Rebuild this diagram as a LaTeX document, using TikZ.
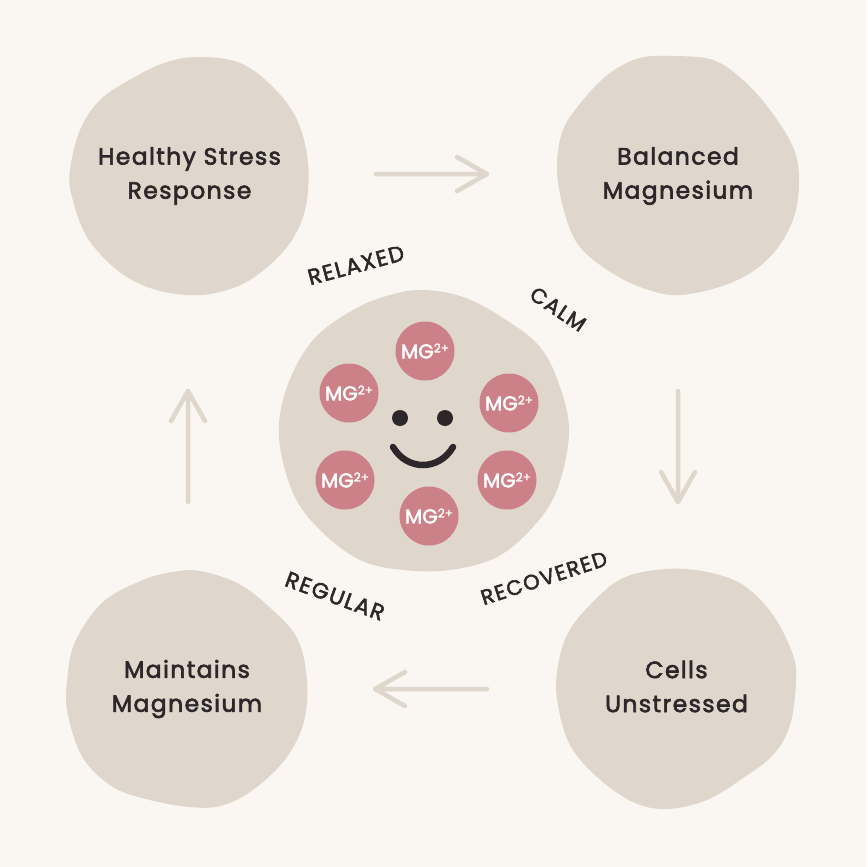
\documentclass[tikz,border=0pt]{standalone}
\usepackage{fontspec}
\setmainfont{Poppins}
\newfontfamily\lab[LetterSpace=6,FakeBold=2.6]{Poppins}
\newfontfamily\tag[LetterSpace=7,FakeBold=2.4]{Poppins}
\newfontfamily\mgf[FakeBold=2.2]{Poppins}
\definecolor{bgc}{HTML}{FAF6F1}
\definecolor{blob}{HTML}{DFD6CC}
\definecolor{ink}{HTML}{2D2729}
\definecolor{rose}{HTML}{CC8088}
\tikzset{
 blobshape/.style={fill=blob,draw=none},
 flow/.style={draw=blob,line width=4.5pt,line cap=round,line join=round},
 lbl/.style={text=ink,font=\lab\fontsize{23.5pt}{34pt}\selectfont,align=center,inner sep=0pt},
 wtag/.style={text=ink,font=\tag\fontsize{21pt}{24pt}\selectfont,inner sep=0pt},
 wtagb/.style={text=ink,font=\tag\fontsize{22pt}{24pt}\selectfont,inner sep=0pt},
 mg/.style={circle,fill=rose,minimum size=59pt,inner sep=0pt,text=white,font=\mgf\fontsize{20pt}{22pt}\selectfont},
 eye/.style={circle,fill=ink,minimum size=16pt,inner sep=0pt}
}
\newcommand{\mgt}{MG\raisebox{6pt}{\fontsize{12pt}{12pt}\selectfont 2+}}
\begin{document}
\begin{tikzpicture}[x=1pt,y=-1pt]
\useasboundingbox (0,0) rectangle (867,867);
\fill[bgc] (0,0) rectangle (867,867);
\fill[blobshape] plot[smooth cycle,tension=0.6] coordinates {(200,57)(240,63)(273,87)(297,120)(308,163)(305,210)(287,247)(253,278)(220,292)(187,295)(150,288)(117,270)(87,237)(72,197)(70,170)(80,130)(100,100)(133,78)(167,62)};
\fill[blobshape] plot[smooth cycle,tension=0.6] coordinates {(673,56)(713,60)(743,80)(770,110)(793,147)(799,180)(793,220)(770,257)(733,282)(680,295)(640,287)(603,267)(577,243)(563,207)(557,167)(563,130)(583,100)(610,73)(640,58)};
\fill[blobshape] plot[smooth cycle,tension=0.6] coordinates {(667,569)(707,572)(743,585)(773,615)(793,655)(796,682)(790,725)(773,755)(743,778)(707,800)(667,809)(633,802)(597,777)(570,745)(558,705)(557,672)(567,635)(590,605)(623,578)};
\fill[blobshape] plot[smooth cycle,tension=0.6] coordinates {(200,571)(237,583)(267,605)(297,638)(307,682)(303,725)(283,762)(250,792)(220,806)(190,807)(150,800)(113,787)(83,758)(68,715)(67,682)(75,642)(103,602)(143,580)(173,572)};
\fill[blobshape] plot[smooth cycle,tension=0.6] coordinates {(423,290)(463,297)(503,318)(540,347)(560,387)(569,433)(557,490)(533,527)(497,557)(450,570)(403,570)(360,560)(320,530)(293,493)(279,437)(287,387)(313,340)(353,310)(390,295)};
\node[lbl] (t1) at (189.5,176) {Healthy Stress\\Response};
\node[lbl] (t2) at (678,176) {Balanced\\Magnesium};
\node[lbl] (t3) at (676.5,686.5) {Cells\\Unstressed};
\node[lbl] (t4) at (187,689) {Maintains\\Magnesium};
\coordinate (a1s) at (376,174); \coordinate (a1e) at (487,174);
\coordinate (a2s) at (678,391); \coordinate (a2e) at (678,502);
\coordinate (a3s) at (487,689); \coordinate (a3e) at (375,689);
\coordinate (a4s) at (188,502); \coordinate (a4e) at (188,391);
\draw[flow] (a1s) -- (a1e) ++(-30,-17) -- (a1e) -- ++(-30,17);
\draw[flow] (a2s) -- (a2e) ++(-17,-30) -- (a2e) -- ++(17,-30);
\draw[flow] (a3s) -- (a3e) ++(30,-17) -- (a3e) -- ++(30,17);
\draw[flow] (a4s) -- (a4e) ++(-17,30) -- (a4e) -- ++(17,30);
\node[wtagb,rotate=15] (w1) at (356,265) {RELAXED};
\node[wtag,rotate=-34] (w2) at (558,309) {CALM};
\node[wtag,rotate=18] (w3) at (544,578) {RECOVERED};
\node[wtagb,rotate=-20] (w4) at (335,596) {REGULAR};
\node[mg] (m1) at (425,351) {\mgt};
\node[mg] (m2) at (349,393) {\mgt};
\node[mg] (m3) at (509,403) {\mgt};
\node[mg] (m4) at (345,480) {\mgt};
\node[mg] (m5) at (507,480) {\mgt};
\node[mg] (m6) at (429,516) {\mgt};
\node[eye] (e1) at (400,418) {};
\node[eye] (e2) at (445,418) {};
\coordinate (sl) at (393,447); \coordinate (sr) at (453,447);
\draw[ink,line width=6.5pt,line cap=round] (sl) .. controls (407,471) and (439,471) .. (sr);
\end{tikzpicture}
\end{document}
